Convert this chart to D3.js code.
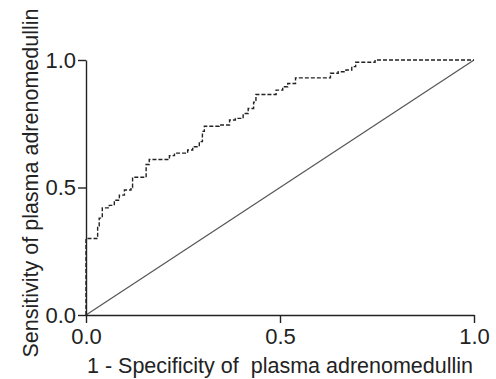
<!DOCTYPE html>
<html>
<head>
<meta charset="utf-8">
<script src="https://cdn.jsdelivr.net/npm/d3@7/dist/d3.min.js"></script>
<style>
  html, body { margin: 0; padding: 0; background: #fff; }
  text { font-family: "Liberation Sans", Arial, sans-serif; fill: #222; }
</style>
</head>
<body>
<div id="chart"></div>
<script>
// ROC curve points (1 - specificity, sensitivity)
var fpr = [0, 0, 0.030, 0.034, 0.042, 0.060, 0.073, 0.086, 0.099, 0.116, 0.120, 0.155, 0.163,
  0.215, 0.228, 0.262, 0.275, 0.292, 0.300, 0.305, 0.343, 0.370, 0.385, 0.405, 0.418, 0.432,
  0.438, 0.490, 0.507, 0.520, 0.540, 0.630, 0.650, 0.670, 0.685, 0.695, 0.745, 1.0];
var tpr = [0, 0.30, 0.35, 0.38, 0.42, 0.43, 0.45, 0.47, 0.49, 0.50, 0.54, 0.59, 0.61,
  0.625, 0.635, 0.647, 0.66, 0.68, 0.72, 0.74, 0.745, 0.765, 0.771, 0.79, 0.81, 0.835,
  0.865, 0.882, 0.895, 0.908, 0.93, 0.948, 0.954, 0.961, 0.974, 0.991, 1.0, 1.0];
var refLine = [0, 1];
var ticks = [0, 0.5, 1.0];
var xTitle = '1 - Specificity of\u00a0 plasma adrenomedullin';
var yTitle = 'Sensitivity of plasma adrenomedullin';

var W = 496, H = 379;
var svg = d3.select('#chart').append('svg').attr('width', W).attr('height', H);

var x = d3.scaleLinear().domain([0, 1]).range([86, 474]);
var y = d3.scaleLinear().domain([0, 1]).range([315, 60]);

// reference diagonal
svg.append('line')
  .attr('x1', x(refLine[0])).attr('y1', y(refLine[0]))
  .attr('x2', x(refLine[1])).attr('y2', y(refLine[1]))
  .attr('stroke', '#555').attr('stroke-width', 1.2);

// ROC step curve
var pts = fpr.map(function (d, i) { return [d, tpr[i]]; });
var line = d3.line().x(function (d) { return x(d[0]); }).y(function (d) { return y(d[1]); })
  .curve(d3.curveStepAfter);
svg.append('path').attr('d', line(pts))
  .attr('fill', 'none').attr('stroke', '#222').attr('stroke-width', 1.4)
  .attr('stroke-dasharray', '4,2');

// axes
var xAxis = d3.axisBottom(x).tickValues(ticks).tickSize(8).tickSizeOuter(0).tickPadding(5)
  .tickFormat(d3.format('.1f'));
var yAxis = d3.axisLeft(y).tickValues(ticks).tickSize(8).tickSizeOuter(0).tickPadding(2)
  .tickFormat(d3.format('.1f'));

var gx = svg.append('g').attr('transform', 'translate(0,315)').call(xAxis);
var gy = svg.append('g').attr('transform', 'translate(86,0)').call(yAxis);
[gx, gy].forEach(function (g) {
  g.selectAll('path,line').attr('stroke', '#222').attr('stroke-width', 1.4);
  g.selectAll('text').attr('font-size', 22).attr('font-family', '"Liberation Sans", Arial, sans-serif').attr('fill', '#222');
});

svg.append('text').attr('x', 280).attr('y', 373).attr('text-anchor', 'middle')
  .attr('font-size', 21.5).text(xTitle);
svg.append('text').attr('transform', 'translate(38,183) rotate(-90)').attr('text-anchor', 'middle')
  .attr('font-size', 21.5).text(yTitle);
</script>
</body>
</html>
